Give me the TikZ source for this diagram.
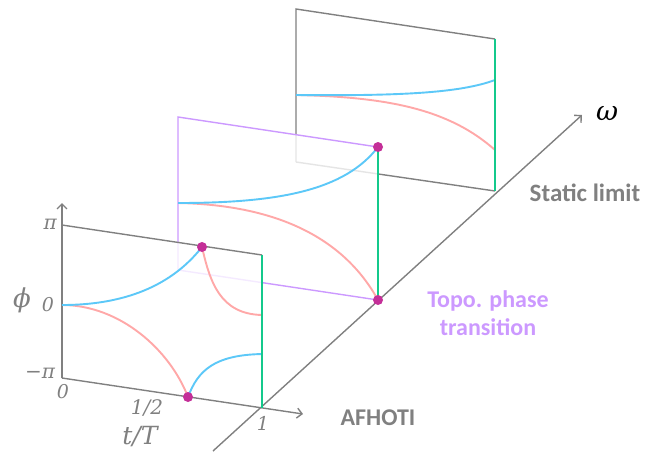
\documentclass[tikz,border=0pt]{standalone}
\usepackage{fontspec}
\newfontfamily\carl{Carlito}
\newfontfamily\mfont{DejaVu Serif}
\usetikzlibrary{arrows.meta}
\definecolor{axgray}{HTML}{808080}
\definecolor{purp}{HTML}{CC99FF}
\definecolor{grn}{HTML}{14C98C}
\definecolor{blu}{HTML}{5CC8F8}
\definecolor{pnk}{HTML}{FFA8A8}
\definecolor{mag}{HTML}{C42F98}
\begin{document}
\begin{tikzpicture}[x=1pt,y=-1pt,
  edge/.style={draw=axgray,line width=1.4pt},
  pedge/.style={draw=purp,line width=1.4pt},
  axarrow/.style={draw=axgray,line width=1.4pt,-{Straight Barb[length=5pt,width=10pt,line width=1.4pt]}},
  gline/.style={draw=grn,line width=2.8pt},
  bcurve/.style={draw=blu,line width=1.9pt},
  rcurve/.style={draw=pnk,line width=1.9pt},
  veil/.style={fill=white,fill opacity=0.8},
  dot/.style={circle,fill=mag,inner sep=0pt,minimum size=10pt},
  mlab/.style={text=axgray,inner sep=0pt},
  blab/.style={inner sep=0pt}
]
\useasboundingbox (0,0) rectangle (655,451);

% omega axis
\coordinate (w0) at (213,451);
\coordinate (w1) at (582,115);
\draw[axarrow] (w0) -- (w1);
\node[inner sep=0pt,font=\mfont\itshape\fontsize{27}{30}\selectfont] (om) at (607,114) {ω};

% ---------- panel 3 (static limit) ----------
\coordinate (A3) at (296,9);
\coordinate (B3) at (495,39);
\coordinate (C3) at (495,191);
\coordinate (D3) at (296,162);
\coordinate (Z3) at (296,95);
\coordinate (E3b) at (495,80);
\coordinate (E3r) at (495,150);
\path[veil] (A3)--(B3)--(C3)--(D3)--cycle;
\draw[edge] (D3)--(A3)--(B3);
\draw[edge] (D3)--(C3);
\draw[rcurve] (Z3) .. controls (390,97) and (450,110) .. (E3r);
\draw[bcurve] (Z3) .. controls (400,96) and (460,93) .. (E3b);
\draw[gline] (B3)--(C3);

% ---------- panel 2 (topological phase transition) ----------
\coordinate (A2) at (178,117);
\coordinate (B2) at (378,147);
\coordinate (C2) at (378,300);
\coordinate (D2) at (178,270);
\coordinate (Z2) at (178,203);
\path[veil] (A2)--(B2)--(C2)--(D2)--cycle;
\draw[pedge] (D2)--(A2)--(B2);
\draw[pedge] (D2)--(C2);
\draw[rcurve] (Z2) .. controls (280,205) and (345,240) .. (C2);
\draw[bcurve] (Z2) .. controls (280,203) and (345,190) .. (B2);
\draw[gline] (B2)--(C2);
\node[dot] (m2t) at (B2) {};
\node[dot] (m2b) at (C2) {};

% ---------- panel 1 (AFHOTI) ----------
\coordinate (A1) at (62,225);
\coordinate (B1) at (262,255);
\coordinate (C1) at (262,408);
\coordinate (D1) at (62,378);
\coordinate (Z1) at (62,305);
\coordinate (Ptop) at (62,203);
\coordinate (Tend) at (303,414);
\coordinate (P1t) at (202,247);
\coordinate (P1b) at (188,397);
\coordinate (E1r) at (262,315);
\coordinate (E1b) at (262,354);
\path[veil] (A1)--(B1)--(C1)--(D1)--cycle;
\draw[edge] (A1)--(B1);
\draw[axarrow] (D1)--(Ptop);
\draw[axarrow] (D1)--(Tend);
\draw[rcurve] (Z1) .. controls (120,305) and (170,350) .. (P1b);
\draw[bcurve] (Z1) .. controls (140,305) and (180,275) .. (P1t);
\draw[rcurve] (P1t) .. controls (210,282) and (220,314) .. (E1r);
\draw[bcurve] (P1b) .. controls (198,370) and (215,355) .. (E1b);
\draw[gline] (B1)--(C1);
\node[dot] (m1t) at (P1t) {};
\node[dot] (m1b) at (P1b) {};

% axis labels
\tikzset{ml/.style={mlab,font=\mfont\itshape\fontsize{#1}{#1}\selectfont}}
\node[ml=20,anchor=east] (lpi) at (57,224) {π};
\node[ml=19] (lz) at (48,305) {0};
\node[ml=20] (lmpi) at (40,373) {−π};
\node[ml=26] (lphi) at (22,300) {ϕ};
\node[ml=19] (lt0) at (63,392) {0};
\node[ml=20] (lhalf) at (147,408) {1/2};
\node[ml=19] (lone) at (263,423) {1};
\node[ml=25] (ltT) at (140,437) {t/T};

% text labels
\node[blab,text=axgray,font=\carl\bfseries\fontsize{25}{28}\selectfont] (sl) at (585,193) {Static limit};
\node[blab,text=purp,align=center,font=\carl\bfseries\fontsize{24}{28}\selectfont] (tp) at (488,313) {Topo. phase\\transition};
\node[blab,text=axgray,font=\carl\bfseries\fontsize{24}{28}\selectfont] (af) at (378,418) {AFHOTI};
\end{tikzpicture}
\end{document}
